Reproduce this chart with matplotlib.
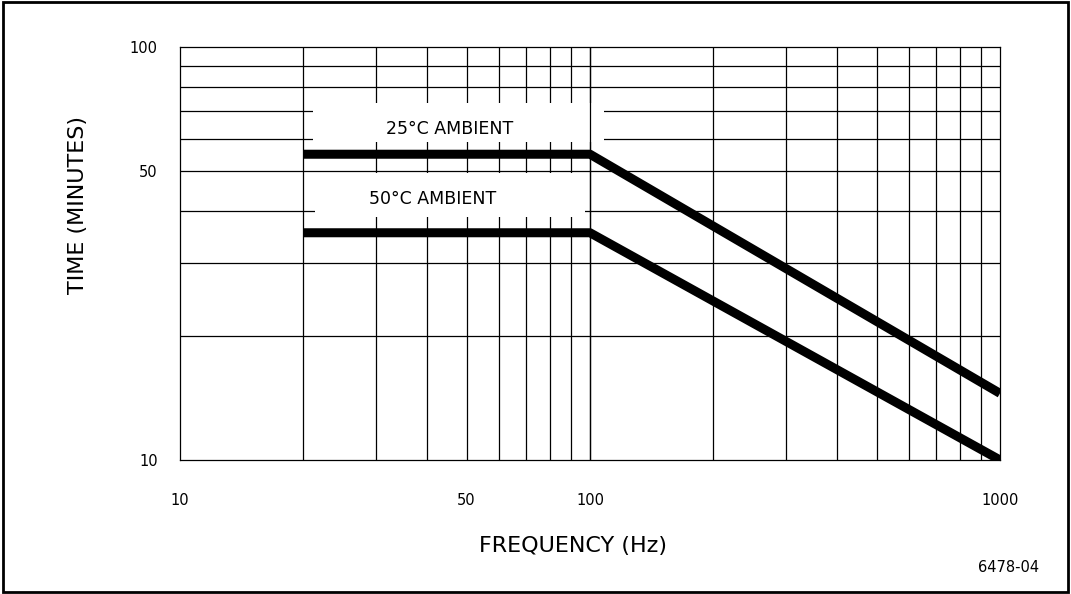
import matplotlib.pyplot as plt
from matplotlib.patches import Rectangle

# Curve data (frequency in Hz, time in minutes)
freq = [20, 100, 1000]
time_25c = [55, 55, 14.5]
time_50c = [35.5, 35.5, 10]

x_ticks = [10, 50, 100, 1000]
y_ticks = [10, 50, 100]
x_grid = [20, 30, 40, 50, 60, 70, 80, 90, 100, 200, 300, 400, 500, 600, 700, 800, 900]
y_grid = [20, 30, 40, 50, 60, 70, 80, 90]

fig = plt.figure(figsize=(10.71, 5.94), dpi=100)
ax = fig.add_axes([180 / 1071, 134 / 594, 820 / 1071, 413 / 594])
ax.set_xscale('log')
ax.set_yscale('log')
ax.set_xlim(10, 1000)
ax.set_ylim(10, 100)

# grid
for x in x_grid:
    ax.axvline(x, color='black', lw=0.9, zorder=1)
for y in y_grid:
    ax.axhline(y, color='black', lw=0.9, zorder=1)

# white boxes behind the labels hide the grid
ax.add_patch(Rectangle((21.1, 58.9), 108 - 21.1, 73.2 - 58.9, facecolor='white',
                       edgecolor='none', zorder=2))
ax.add_patch(Rectangle((21.4, 38.8), 97 - 21.4, 49.5 - 38.8, facecolor='white',
                       edgecolor='none', zorder=2))
ax.axvline(100, color='black', lw=0.9, zorder=3)

ax.plot(freq, time_25c, color='black', lw=6.5, solid_capstyle='butt', zorder=4)
ax.plot(freq, time_50c, color='black', lw=6.5, solid_capstyle='butt', zorder=4)

ax.text(45.5, 63.3, '25°C AMBIENT', ha='center', va='center', fontsize=12.5, zorder=5)
ax.text(41.4, 42.9, '50°C AMBIENT', ha='center', va='center', fontsize=12.5, zorder=5)

ax.minorticks_off()
ax.set_xticks(x_ticks)
ax.set_xticklabels([str(t) for t in x_ticks])
ax.set_yticks(y_ticks)
ax.set_yticklabels([str(t) for t in y_ticks])
ax.tick_params(length=0, labelsize=10.5)
ax.tick_params(axis='x', pad=24)
ax.tick_params(axis='y', pad=16)
for s in ax.spines.values():
    s.set_linewidth(0.9)

ax.set_xlabel('FREQUENCY (Hz)', fontsize=16, labelpad=20)
ax.set_ylabel('TIME (MINUTES)', fontsize=16, labelpad=30)
ax.xaxis.label.set_x(0.479)
ax.yaxis.label.set_y(0.617)

fig.text(1009 / 1071, 1 - 568 / 594, '6478-04', ha='center', va='center', fontsize=10.5)

fig.patches.append(Rectangle((0.003, 0.004), 0.994, 0.992, transform=fig.transFigure,
                             fill=False, edgecolor='black', lw=2))

fig.savefig('out.png', dpi=100)
